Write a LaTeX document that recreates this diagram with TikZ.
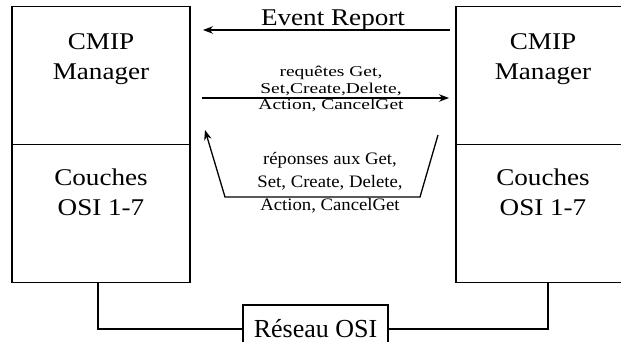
\documentclass[tikz,border=0pt]{standalone}
\usepackage{fontspec}
\setmainfont{Liberation Serif}
\usetikzlibrary{positioning, arrows.meta}

\begin{document}
\begin{tikzpicture}[x=1pt,y=-1pt,>={Stealth[length=10pt,width=7.5pt]},line width=1.3pt,
	box/.style={rectangle, draw, minimum height=138pt, inner sep=0pt, outer sep=0pt},
	bigtxt/.style={align=center, font=\fontsize{24}{30}\selectfont, xscale=1.13},
	reqtxt/.style={align=center, font=\fontsize{15}{16.5}\selectfont, xscale=1.3},
	reptxt/.style={align=center, font=\fontsize{17.5}{23}\selectfont, xscale=1.07}]
		\useasboundingbox (0,0) rectangle (621,342);

		\node[box, minimum width=178pt				] (MGR_L) at (101,75.5) {};
		\node[box, minimum width=178pt, below=0pt of MGR_L	] (OSI_L) {};
		\node[box, minimum width=174pt				] (MGR_R) at (543,75.5) {};
		\node[box, minimum width=174pt, below=0pt of MGR_R	] (OSI_R) {};

		\node[bigtxt	] (MGR_L_TXT) at (101,59)	{CMIP\\Manager};
		\node[bigtxt	] (OSI_L_TXT) at (101,192)	{Couches\\OSI 1-7};
		\node[bigtxt	] (MGR_R_TXT) at (543,59)	{CMIP\\Manager};
		\node[bigtxt	] (OSI_R_TXT) at (543,192)	{Couches\\OSI 1-7};

		\node[draw, minimum width=145pt, minimum height=48pt, font=\fontsize{26}{30}\selectfont] (NET) at (315.5,329) {Réseau OSI};

		\node[bigtxt, anchor=base	] (EVT) at (333,26)	{Event Report};
		\node[reqtxt			] (REQ) at (331,89)	{requêtes Get,\\Set,Create,Delete,\\Action, CancelGet};
		\node[reptxt			] (REP) at (330,183)	{réponses aux Get,\\Set, Create, Delete,\\Action, CancelGet};

		\coordinate (REP_A) at (438,135);
		\coordinate (REP_B) at (420,197);
		\coordinate (REP_C) at (225,197);
		\coordinate (REP_D) at (205,130);

		\draw[->, shorten <=6pt, shorten >=13pt] ([yshift=45.5pt]MGR_R.west) -- ([yshift=45.5pt]MGR_L.east);
		\draw[->, shorten <=12pt, shorten >=7pt] ([yshift=-22.5pt]MGR_L.east) -- ([yshift=-22.5pt]MGR_R.west);
		\draw[->] (REP_A) -- (REP_B) -- (REP_C) -- (REP_D);

		\draw ([xshift=-3pt]OSI_L.south) |- (NET.west);
		\draw ([xshift=5pt]OSI_R.south) |- (NET.east);

	\end{tikzpicture}
\end{document}
